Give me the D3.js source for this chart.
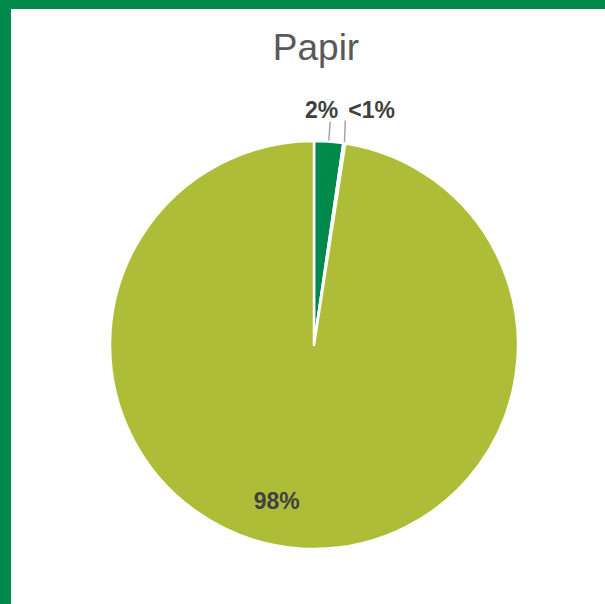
<!DOCTYPE html>
<html>
<head>
<meta charset="utf-8">
<script src="https://cdn.jsdelivr.net/npm/d3@7"></script>
<style>
  html, body { margin: 0; padding: 0; background: #ffffff; }
  svg { display: block; }
</style>
</head>
<body>
<svg id="chart" width="605" height="604"></svg>
<script>
// Share of paper by category (percent)
const categories = ["A", "B", "C"];
const values = [2.3, 0.15, 97.55];
const labels = ["2%", "<1%", "98%"];
const colors = ["#00894B", "#D9D9D9", "#AEBD38"];

const W = 605, H = 604;
const svg = d3.select("#chart");

// frame: green band along the top and left edge
const frameColor = "#00894B";
svg.append("rect").attr("x", 0).attr("y", 0).attr("width", W).attr("height", 9).attr("fill", frameColor);
svg.append("rect").attr("x", 0).attr("y", 0).attr("width", 11).attr("height", H).attr("fill", frameColor);

// title
svg.append("text")
  .attr("x", 316).attr("y", 60)
  .attr("text-anchor", "middle")
  .attr("font-family", "Liberation Sans, Arial, sans-serif")
  .attr("font-size", 37)
  .attr("fill", "#595959")
  .text("Papir");

const cx = 314, cy = 345, R = 204;
const g = svg.append("g").attr("transform", `translate(${cx},${cy})`);

const pie = d3.pie().sort(null).value(d => d.v);
const data = pie(categories.map((c, i) => ({ c, v: values[i], label: labels[i], color: colors[i] })));
const arc = d3.arc().innerRadius(0).outerRadius(R);

g.selectAll("path.slice")
  .data(data)
  .join("path")
  .attr("class", "slice")
  .attr("d", arc)
  .attr("fill", d => d.data.color)
  .attr("stroke", "#ffffff")
  .attr("stroke-width", 2.5)
  .attr("stroke-linejoin", "round");

const mid = d => (d.startAngle + d.endAngle) / 2;
const labelFont = "Liberation Sans, Arial, sans-serif";
const labelSize = 23;

// small slices: labels above the pie with leader lines
const small = data.slice(0, 2);
const r0 = R + 1, r1 = R + 20;
small.forEach((d, i) => {
  const a = mid(d);
  const x0 = r0 * Math.sin(a), y0 = -r0 * Math.cos(a);
  const x1 = r1 * Math.sin(a) - (i === 1 ? 2 : 0), y1 = -r1 * Math.cos(a) + (i === 1 ? -3 : 0);
  g.append("line")
    .attr("x1", x0).attr("y1", y0).attr("x2", x1).attr("y2", y1)
    .attr("stroke", "#A6A6A6").attr("stroke-width", 1.5);
  g.append("text")
    .attr("x", i === 0 ? x1 + 8 : x1 + 3)
    .attr("y", -r1 * Math.cos(mid(small[0])) - 4)
    .attr("text-anchor", i === 0 ? "end" : "start")
    .attr("font-family", labelFont)
    .attr("font-weight", "bold")
    .attr("font-size", labelSize)
    .attr("fill", "#404040")
    .text(d.data.label);
});

// large slice: label inside
const big = data[2];
const aBig = mid(big) + 0.158, rBig = 160;
g.append("text")
  .attr("x", rBig * Math.sin(aBig))
  .attr("y", -rBig * Math.cos(aBig) + 8)
  .attr("text-anchor", "middle")
  .attr("font-family", labelFont)
  .attr("font-weight", "bold")
  .attr("font-size", labelSize)
  .attr("fill", "#404040")
  .text(big.data.label);
</script>
</body>
</html>
